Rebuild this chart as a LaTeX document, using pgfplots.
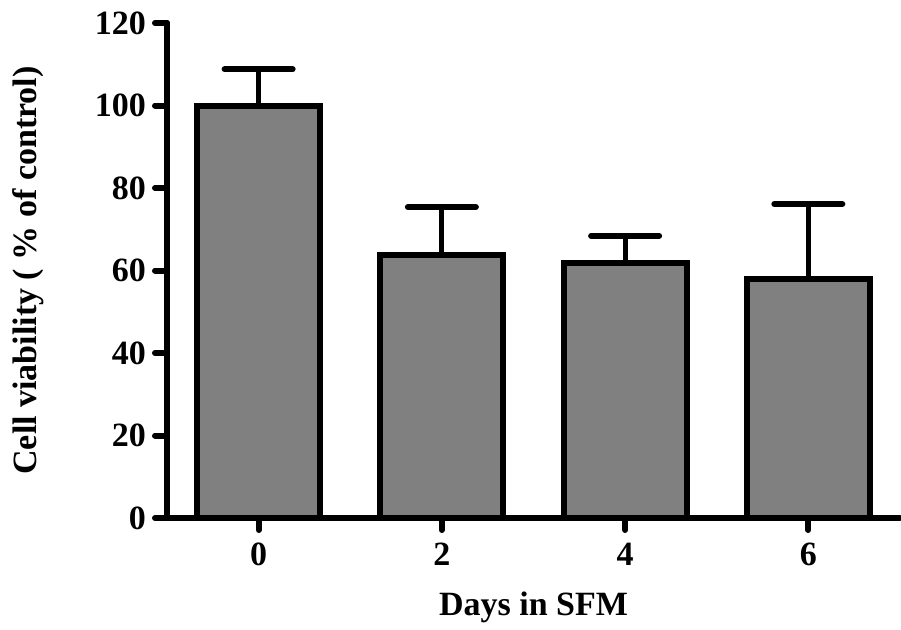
\documentclass[border=0pt]{standalone}
\usepackage{pgfplots}
\pgfplotsset{compat=1.18}
\usepackage{fontspec}
\setmainfont{Liberation Serif}
\begin{document}
\begin{tikzpicture}
\useasboundingbox (-83.5pt,-55.5pt) rectangle (367pt,259pt);
\begin{axis}[
  at={(0pt,0pt)}, anchor=south west,
  scale only axis, width=366.5pt, height=247.5pt,
  xmin=-1, xmax=7, ymin=0, ymax=120,
  axis x line*=bottom, axis y line*=left,
  axis line style={line width=3pt, line cap=round},
  xtick={0,2,4,6}, ytick={0,20,...,120},
  tick align=outside, major tick length=6pt,
  tick style={line width=3pt, black, line cap=round},
  /pgf/number format/assume math mode=true,
  ticklabel style={font=\fontsize{17}{20}\selectfont\bfseries},
  yticklabel style={xshift=-1pt},
  xticklabel style={yshift=-3pt},
  xlabel={Days in SFM}, ylabel={Cell viability ( \% of control)},
  label style={font=\fontsize{17}{20}\selectfont\bfseries},
  xlabel style={at={(axis description cs:0.5,0)}, anchor=center, yshift=-44.5pt},
  ylabel style={at={(axis description cs:0,0.5)}, anchor=center, yshift=69.5pt},
  clip=false,
]
\addplot[ybar, bar width=61.5pt, fill=black!50, draw=black, line width=3pt,
  error bars/.cd, y dir=plus, y explicit,
  error bar style={line width=2.5pt, line cap=round},
  error mark options={rotate=90, line width=3pt, mark size=17pt, line cap=round}]
coordinates {
(0,100) +- (0,8.8)
(2,63.8) +- (0,11.6)
(4,61.8) +- (0,6.6)
(6,57.9) +- (0,18.2)
};
\end{axis}
\end{tikzpicture}
\end{document}
